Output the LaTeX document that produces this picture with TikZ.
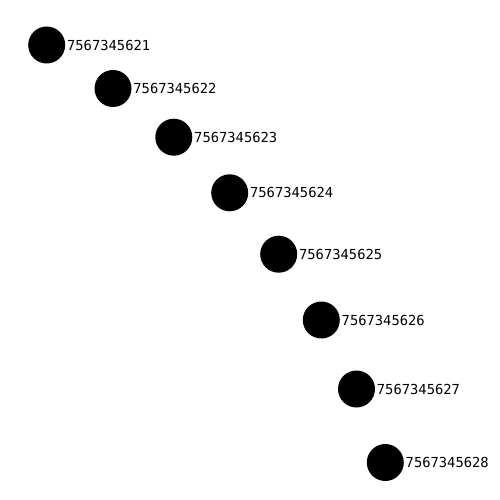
\documentclass[tikz,border=0pt]{standalone}
\usepackage{fontspec}
\newfontfamily\labelfont{DejaVu Sans Mono}
\begin{document}
\begin{tikzpicture}[x=1pt,y=-1pt,
  dot/.style={circle,fill=black,draw=none,minimum size=37pt,inner sep=0pt},
  lab/.style={anchor=west,inner sep=1.5pt,font=\labelfont\fontsize{13.8pt}{14pt}\selectfont}]
\useasboundingbox (0,0) rectangle (500,500);
\foreach \i/\x/\y in {1/46.7/45,2/113/88.5,3/173.8/137.2,4/229.7/192.8,5/278.7/254.2,6/321.3/320,7/356.5/389,8/385.3/462.5}{
  \node[dot] (n\i) at (\x,\y) {};
  \node[lab] (l\i) at (n\i.east) {756734562\i};
}
\end{tikzpicture}
\end{document}
